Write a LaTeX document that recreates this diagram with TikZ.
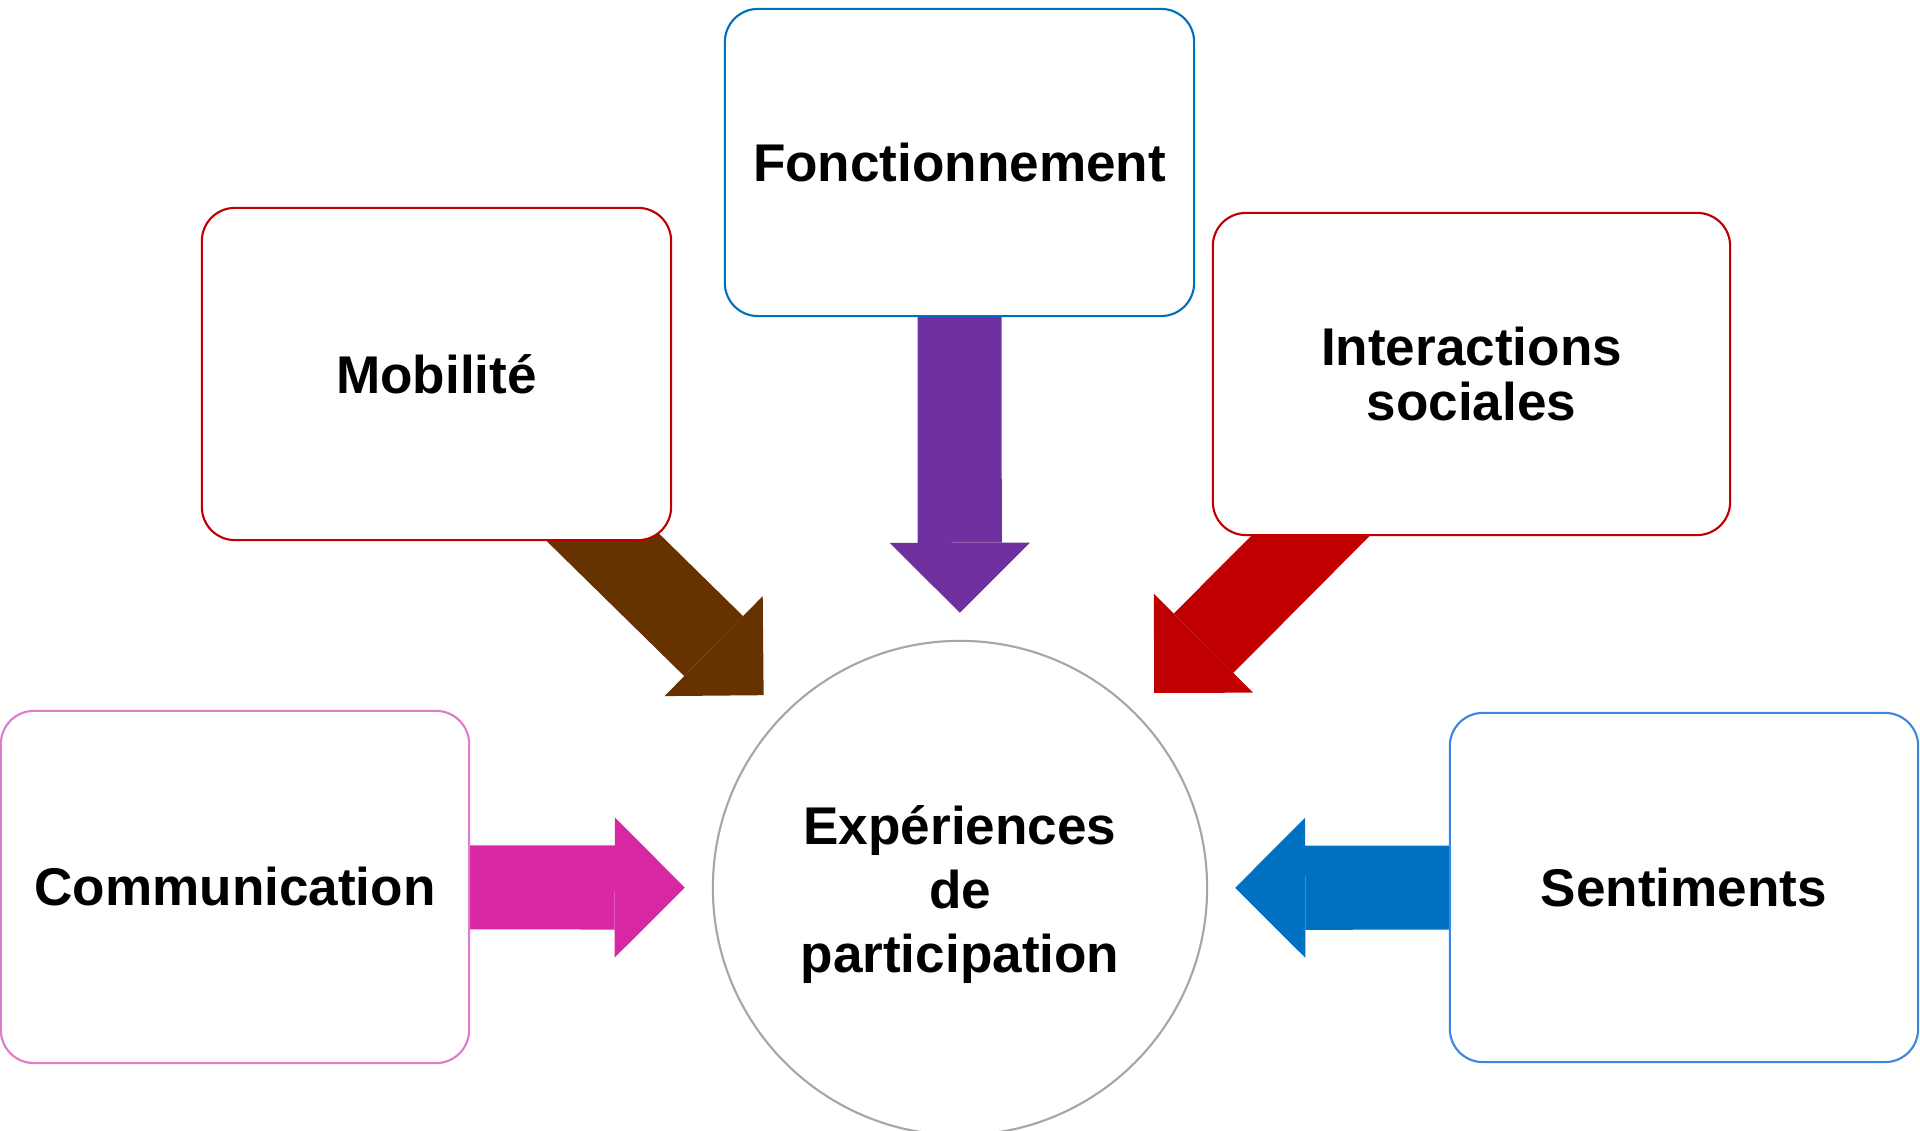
\documentclass[tikz,border=0pt]{standalone}
\usepackage{fontspec}
\setmainfont{Liberation Sans}
\usetikzlibrary{arrows.meta,backgrounds}
\definecolor{cBlueBox}{HTML}{0070C0}
\definecolor{cRedBox}{HTML}{C00000}
\definecolor{cPinkBox}{HTML}{E07BCB}
\definecolor{cSkyBox}{HTML}{3A87E0}
\definecolor{cGray}{HTML}{A6A6A6}
\definecolor{cPurple}{HTML}{7030A0}
\definecolor{cBrown}{HTML}{663300}
\definecolor{cRed}{HTML}{C00000}
\definecolor{cMagenta}{HTML}{D926A3}
\definecolor{cBlue}{HTML}{0070C0}
\begin{document}
\begin{tikzpicture}[x=0.01cm,y=-0.01cm,
  lbl/.style={font=\fontsize{15.1}{18.2}\selectfont\bfseries, align=center},
  box/.style={lbl, draw, fill=white, rounded corners=0.33cm, line width=0.6pt, inner sep=0pt},
  barrow/.style={line width=0.84cm, draw=#1, -{Triangle[length=0.7cm,width=1.4cm,line width=0pt,fill=#1]}, shorten >=0.27cm}]
\useasboundingbox (0,0) rectangle (1920,1131);
\node[box, draw=cBlueBox, minimum width=4.69cm, minimum height=3.07cm] (fon) at (959.5,162.5) {Fonctionnement};
\node[box, draw=cRedBox, minimum width=4.69cm, minimum height=3.32cm] (mob) at (436.5,374) {Mobilité};
\node[box, draw=cRedBox, minimum width=5.17cm, minimum height=3.22cm, font=\fontsize{15.1}{15.4}\selectfont\bfseries] (int) at (1471.5,374) {Interactions\\sociales};
\node[box, draw=cPinkBox, minimum width=4.68cm, minimum height=3.52cm] (com) at (235,887) {Communication};
\node[box, draw=cSkyBox, minimum width=4.68cm, minimum height=3.49cm] (sen) at (1684,887.5) {Sentiments};
\node[lbl, circle, draw=cGray, fill=white, line width=0.6pt, inner sep=0pt, minimum size=4.94cm] (exp) at (960,888) {\rule{0pt}{0.51cm}Expériences\\de\\participation};
\begin{scope}[on background layer]
  \draw[barrow=cPurple] (fon.center) -- (exp);
  \draw[barrow=cBrown] (mob.center) -- (exp);
  \draw[barrow=cRed] (int.center) -- (exp);
  \draw[barrow=cMagenta] (com.center) -- (exp);
  \draw[barrow=cBlue] (sen.center) -- (exp);
\end{scope}
\end{tikzpicture}
\end{document}
